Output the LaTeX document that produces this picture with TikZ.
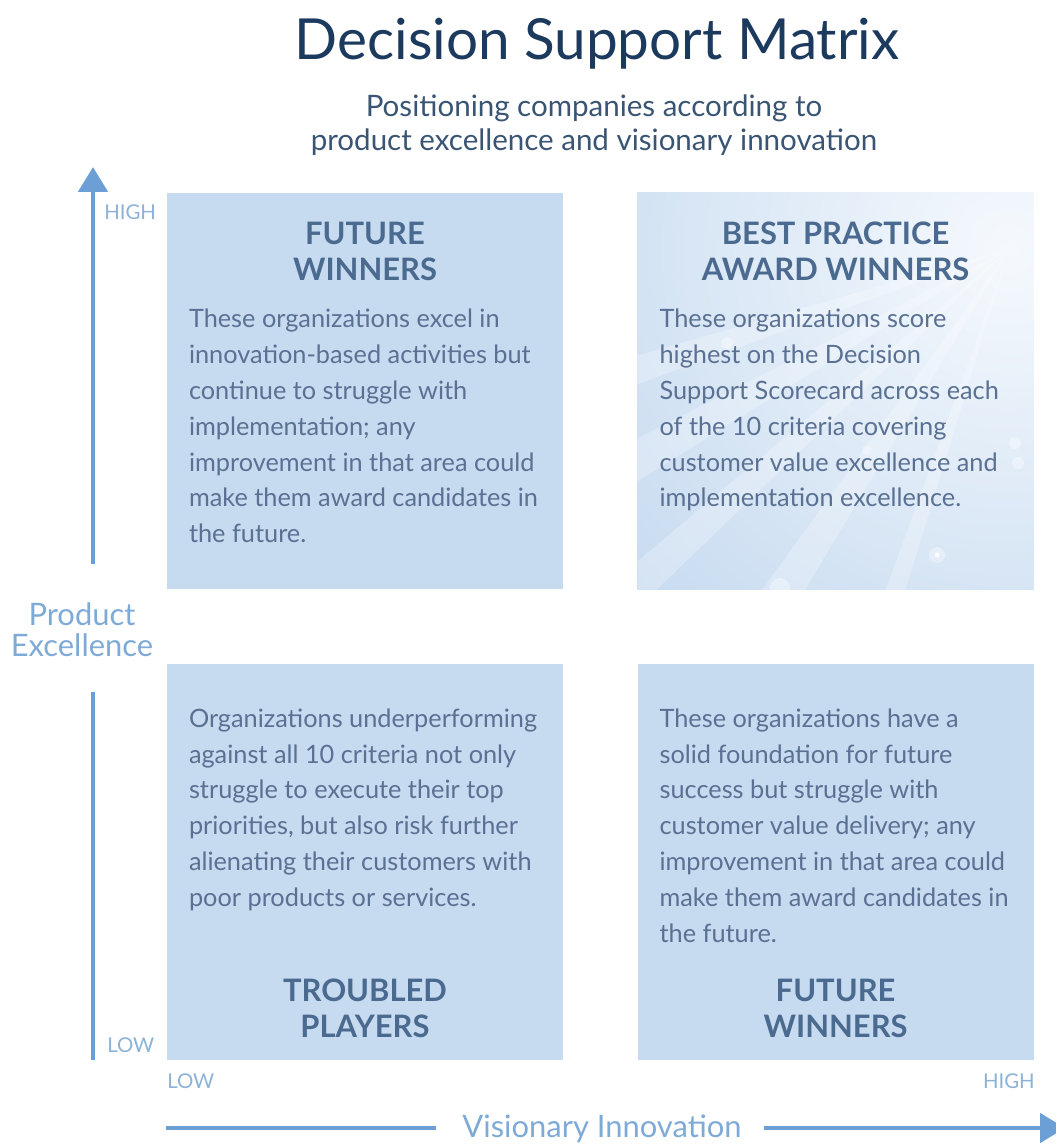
\documentclass[tikz,border=0pt]{standalone}
\usepackage{fontspec}
\setmainfont{Lato}
\usepackage{tikz}
\usetikzlibrary{arrows.meta}
\usetikzlibrary{positioning}
\definecolor{boxblue}{HTML}{C6DAF0}
\definecolor{boxglow}{HTML}{F5F9FD}
\definecolor{headblue}{HTML}{4B6A8F}
\definecolor{textblue}{HTML}{5A7193}
\definecolor{titleblue}{HTML}{1C3A5E}
\definecolor{subblue}{HTML}{3A5574}
\definecolor{axisblue}{HTML}{6C9FD6}
\definecolor{scaleblue}{HTML}{8DB2D7}
\definecolor{labelblue}{HTML}{7EAAD7}

\begin{document}
\begin{tikzpicture}
    [
quadrant/.style={rectangle, fill=boxblue, inner sep=0pt, minimum width=9.9cm, minimum height=9.9cm},heading/.style={inner sep=0pt, align=center, text=headblue, font={\bfseries\fontsize{22pt}{25.5pt}\selectfont}},blurb/.style={inner sep=0pt, align=left, text=textblue, font={\fontsize{18pt}{25.5pt}\selectfont}},
axisline/.style={draw=axisblue, line width=3.5pt},scalelabel/.style={inner sep=0pt, text=scaleblue, font={\fontsize{14.5pt}{16pt}\selectfont}},axislabel/.style={inner sep=0pt, align=center, text=labelblue, font={\fontsize{22pt}{22.7pt}\selectfont}}
]
\useasboundingbox (0,0) rectangle (26.375,-28.675);

% title block
\node[inner sep=0pt, text=titleblue, font={\fontsize{40.3pt}{46pt}\selectfont}](title) at (14.925,-0.45) [anchor=north] {Decision Support Matrix};
\node[inner sep=0pt, align=center, text=subblue, font={\fontsize{21pt}{24.8pt}\selectfont}](subtitle) at (14.85,-2.35) [anchor=north] {Positioning companies according to\\product excellence and visionary innovation};

% the four quadrants
\node[quadrant](tl) at (9.125,-9.775) {};
\node[quadrant](tr)[right=1.85cm of tl]{};
\node[quadrant](bl)[below=1.85cm of tl]{};
\node[quadrant](br)[right=1.85cm of bl]{};

% glow and rays on the winners box
\begin{scope}
\clip (tr.south west) rectangle (tr.north east);
\coordinate (sun) at ([xshift=-0.6cm,yshift=-1.4cm]tr.north east);
\shade[inner color=boxglow, outer color=boxblue] (sun) circle (13cm);
\fill[white, opacity=0.25] (sun) -- ++(196:16cm) arc[start angle=196, end angle=200, radius=16cm] -- cycle;
\fill[white, opacity=0.25] (sun) -- ++(207:16cm) arc[start angle=207, end angle=212, radius=16cm] -- cycle;
\fill[white, opacity=0.25] (sun) -- ++(220:16cm) arc[start angle=220, end angle=224, radius=16cm] -- cycle;
\fill[white, opacity=0.25] (sun) -- ++(234:16cm) arc[start angle=234, end angle=239, radius=16cm] -- cycle;
\fill[white, opacity=0.25] (sun) -- ++(250:16cm) arc[start angle=250, end angle=253, radius=16cm] -- cycle;
\fill[white, opacity=0.35] (23.425,-13.875) circle (0.2cm);
\fill[white, opacity=0.9] (23.425,-13.875) circle (0.06cm);
\fill[white, opacity=0.35] (19.5,-14.7) circle (0.25cm);
\fill[white, opacity=0.35] (25.375,-11.075) circle (0.15cm);
\fill[white, opacity=0.35] (25.45,-11.575) circle (0.15cm);
\fill[white, opacity=0.35] (18.175,-8.575) circle (0.15cm);
\fill[white, opacity=0.35] (21.675,-11.25) circle (0.12cm);
\end{scope}

% headings
\node[heading](tlhead)[below=0.725cm of tl.north]{FUTURE\\WINNERS};
\node[heading](trhead)[below=0.725cm of tr.north]{BEST PRACTICE\\AWARD WINNERS};
\node[heading](blhead)[above=0.55cm of bl.south]{TROUBLED\\PLAYERS};
\node[heading](brhead)[above=0.55cm of br.south]{FUTURE\\WINNERS};

% quadrant texts
\node[blurb, anchor=north west](tltext) at ([xshift=0.55cm,yshift=-2.9cm]tl.north west) {These organizations excel in\\innovation-based activities but\\continue to struggle with\\implementation; any\\improvement in that area could\\make them award candidates in\\the future.};
\node[blurb, anchor=north west](trtext) at ([xshift=0.55cm,yshift=-2.9cm]tr.north west) {These organizations score\\highest on the Decision\\Support Scorecard across each\\of the 10 criteria covering\\customer value excellence and\\implementation excellence.};
\node[blurb, anchor=north west](bltext) at ([xshift=0.55cm,yshift=-1.125cm]bl.north west) {Organizations underperforming\\against all 10 criteria not only\\struggle to execute their top\\priorities, but also risk further\\alienating their customers with\\poor products or services.};
\node[blurb, anchor=north west](brtext) at ([xshift=0.55cm,yshift=-1.125cm]br.north west) {These organizations have a\\solid foundation for future\\success but struggle with\\customer value delivery; any\\improvement in that area could\\make them award candidates in\\the future.};

% axes
\coordinate (ytop) at (2.325,-4.175);
\coordinate (ybottom) at (2.325,-26.5);
\coordinate (xstart) at (4.15,-28.2);
\coordinate (xend) at (26.625,-28.2);
\node[axislabel](ylabel) at (2.05,-15.05) [anchor=north] {Product\\Excellence};
\node[axislabel](xlabel) at (15.05,-28.43) [anchor=base] {Visionary Innovation};
\draw[axisline, -{Triangle[length=0.625cm, width=0.725cm]}, shorten <=0.95cm] (ylabel.north -| ytop) -- (ytop);
\draw[axisline, shorten <=0.875cm] (ylabel.south -| ybottom) -- (ybottom);
\draw[axisline, shorten >=0.65cm] (xstart) -- (xstart -| xlabel.west);
\draw[axisline, -{Triangle[length=0.625cm, width=0.725cm]}, shorten <=0.55cm] (xstart -| xlabel.east) -- (xend);

% low / high marks
\node[scalelabel, anchor=base west](yhigh) at (2.6,-5.5) {HIGH};
\node[scalelabel, anchor=base west](ylow) at (2.675,-26.3) {LOW};
\node[scalelabel, anchor=base west](xlow) at (4.175,-27.2) {LOW};
\node[scalelabel, anchor=base east](xhigh) at (25.875,-27.2) {HIGH};
\end{tikzpicture}
\end{document}
